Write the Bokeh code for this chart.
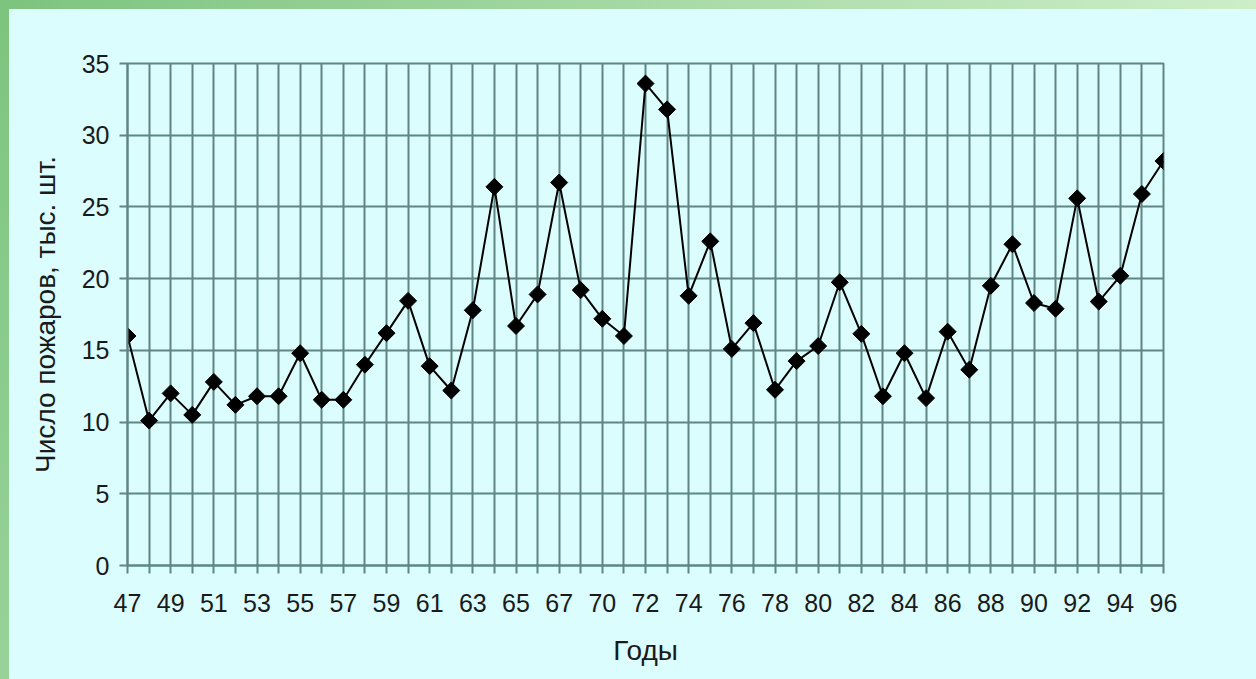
import math
from bokeh.plotting import figure
from bokeh.models import FixedTicker, Range1d
from bokeh.embed import file_html
from bokeh.resources import INLINE

# Years (the dataset skips 1969)
years = ["47", "48", "49", "50", "51", "52", "53", "54", "55", "56",
         "57", "58", "59", "60", "61", "62", "63", "64", "65", "66",
         "67", "68", "70", "71", "72", "73", "74", "75", "76", "77",
         "78", "79", "80", "81", "82", "83", "84", "85", "86", "87",
         "88", "89", "90", "91", "92", "93", "94", "95", "96"]
# Number of fires, thousands
fires = [16.0, 10.1, 12.0, 10.5, 12.8, 11.2, 11.8, 11.8, 14.8, 11.55,
         11.55, 14.0, 16.2, 18.45, 13.9, 12.2, 17.8, 26.4, 16.7, 18.9,
         26.7, 19.2, 17.2, 16.0, 33.6, 31.8, 18.8, 22.6, 15.1, 16.9,
         12.25, 14.25, 15.3, 19.75, 16.15, 11.8, 14.8, 11.67, 16.3, 13.65,
         19.5, 22.4, 18.3, 17.9, 25.6, 18.4, 20.2, 25.9, 28.2]
y_ticks = [0, 5, 10, 15, 20, 25, 30, 35]

x_title = "Годы"
y_title = "Число пожаров, тыс. шт."

idx = list(range(len(years)))
BG = "#dbfdfd"
GRID = "#5f8585"
FONT = "Liberation Sans"

p = figure(width=1246, height=669, output_backend="svg", toolbar_location=None,
           x_range=Range1d(0, len(years) - 1), y_range=Range1d(0, 35),
           min_border_left=118, min_border_right=92,
           min_border_top=54, min_border_bottom=113)
p.background_fill_color = BG
p.border_fill_color = BG
p.outline_line_color = GRID
p.outline_line_width = 2

for ax in (p.xaxis[0], p.yaxis[0]):
    ax.axis_line_color = GRID
    ax.axis_line_width = 2
    ax.major_tick_line_color = GRID
    ax.major_tick_line_width = 2
    ax.major_tick_out = 8
    ax.major_tick_in = 0
    ax.minor_tick_line_color = None
    ax.major_label_text_font = FONT
    ax.major_label_text_font_size = "25px"
    ax.major_label_text_color = "#1a1a1a"
    ax.axis_label_text_font = FONT
    ax.axis_label_text_font_size = "28px"
    ax.axis_label_text_font_style = "normal"
    ax.axis_label_text_color = "#1a1a1a"

p.xaxis.ticker = FixedTicker(ticks=idx)
p.xaxis.major_label_overrides = {i: (years[i] if i % 2 == 0 else "") for i in idx}
p.xaxis.major_label_standoff = 20
p.xaxis.axis_label = x_title
p.xaxis.axis_label_standoff = 20

p.yaxis.ticker = FixedTicker(ticks=y_ticks)
p.yaxis.major_label_standoff = 10
p.yaxis.axis_label = y_title
p.yaxis.axis_label_standoff = 18

p.xgrid.grid_line_color = GRID
p.xgrid.grid_line_width = 2
p.ygrid.grid_line_color = GRID
p.ygrid.grid_line_width = 2

p.line(idx, fires, line_color="black", line_width=2)
p.scatter(idx, fires, marker="square", angle=math.pi / 4, size=12,
          fill_color="black", line_color="black", line_width=1)

html = file_html(p, INLINE, title="Число пожаров")
style = ("<style>html{background:"
         "linear-gradient(to right,#7dc47f,#cdeec8) 0 0/100% 9px no-repeat,"
         "linear-gradient(#7dc47f,#97d398) 0 0/9px 100% no-repeat,"
         + BG + " !important;}"
         "body{background:transparent !important;padding:9px 0 0 9px !important;"
         "box-sizing:border-box;overflow:hidden;}</style>")
html = html.replace("</head>", style + "</head>", 1)
open("out.html", "w").write(html)
